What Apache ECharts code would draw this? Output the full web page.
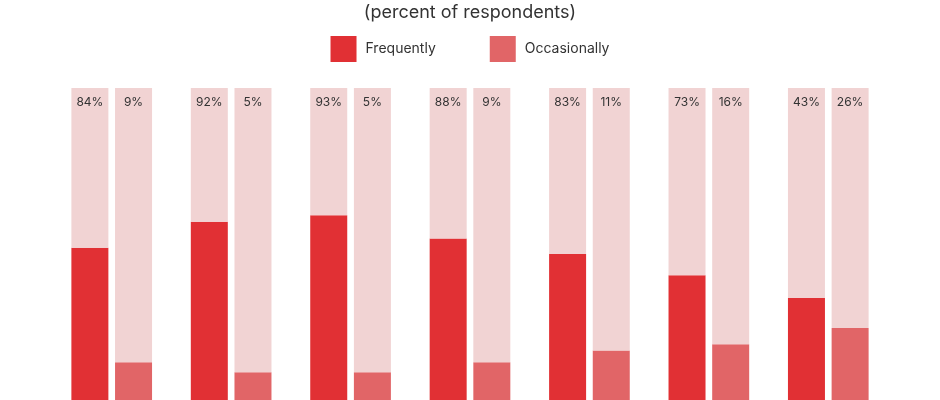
<!DOCTYPE html>
<html>
<head>
<meta charset="utf-8">
<title>Frequently vs Occasionally</title>
<script src="https://cdn.jsdelivr.net/npm/echarts@6/dist/echarts.min.js"></script>
<style>
  html, body { margin: 0; padding: 0; background: #fff; }
  #chart { width: 940px; height: 400px; }
</style>
</head>
<body>
<div id="chart"></div>
<script>
// categories are not shown in the picture
const categories = ['A', 'B', 'C', 'D', 'E', 'F', 'G'];

// printed percentages
const frequentLabels = [84, 92, 93, 88, 83, 73, 43];
const occasionalLabels = [9, 5, 5, 9, 11, 16, 26];

// bar heights as drawn (share of the full column)
const frequentBars = [48.8, 57.1, 59.2, 51.8, 46.8, 40.0, 32.7];
const occasionalBars = [12.1, 8.9, 8.9, 12.1, 15.9, 17.9, 23.1];

const FONT = 'Inter, "Noto Sans", sans-serif';
const RED = '#e13034';
const LIGHT_RED = '#e16567';
const PINK = '#f1d3d3';

const chart = echarts.init(document.getElementById('chart'));

function restOf(arr) {
  return arr.map(v => 100 - v);
}

function restLabel(labels) {
  return {
    show: true,
    position: 'insideTop',
    distance: 8,
    color: '#333',
    fontFamily: FONT,
    fontSize: 12,
    formatter: p => labels[p.dataIndex] + '%'
  };
}

const option = {
  animation: false,
  title: {
    text: '(percent of respondents)',
    left: 'center',
    top: -1,
    textStyle: { fontFamily: FONT, fontSize: 18, fontWeight: 'normal', color: '#333' }
  },
  legend: {
    data: ['Frequently', 'Occasionally'],
    left: 'center',
    top: 31,
    itemWidth: 26,
    itemHeight: 26,
    itemGap: 54,
    icon: 'rect',
    textStyle: { fontFamily: FONT, fontSize: 14, color: '#333', padding: [0, 0, 0, 4] }
  },
  grid: { left: 52, right: 52, top: 88, bottom: 0 },
  xAxis: {
    type: 'category',
    data: categories,
    show: false
  },
  yAxis: {
    type: 'value',
    min: 0,
    max: 100,
    show: false
  },
  series: [
    {
      name: 'Frequently',
      type: 'bar',
      stack: 'freq',
      barWidth: 37,
      barGap: '18%',
      itemStyle: { color: RED },
      data: frequentBars
    },
    {
      name: 'Frequently rest',
      type: 'bar',
      stack: 'freq',
      barWidth: 37,
      itemStyle: { color: PINK },
      label: restLabel(frequentLabels),
      data: restOf(frequentBars)
    },
    {
      name: 'Occasionally',
      type: 'bar',
      stack: 'occ',
      barWidth: 37,
      barGap: '18%',
      itemStyle: { color: LIGHT_RED },
      data: occasionalBars
    },
    {
      name: 'Occasionally rest',
      type: 'bar',
      stack: 'occ',
      barWidth: 37,
      itemStyle: { color: PINK },
      label: restLabel(occasionalLabels),
      data: restOf(occasionalBars)
    }
  ]
};

chart.setOption(option);
</script>
</body>
</html>
